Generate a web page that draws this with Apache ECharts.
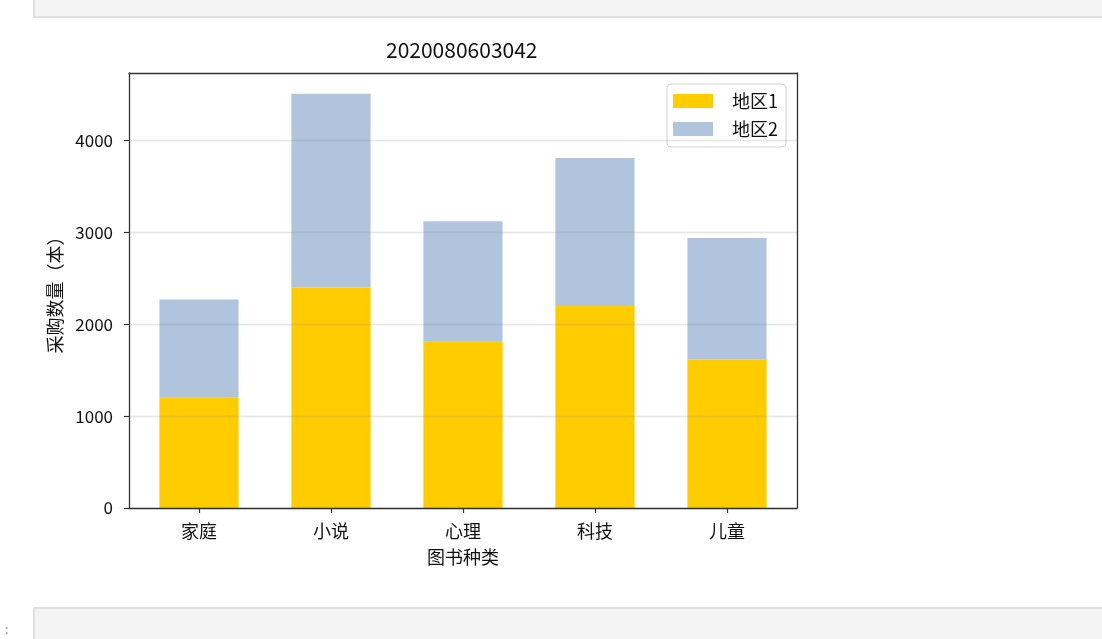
<!DOCTYPE html>
<html>
<head>
<meta charset="utf-8">
<script src="https://cdn.jsdelivr.net/npm/echarts@6/dist/echarts.min.js"></script>
<style>
  html, body { margin: 0; padding: 0; background: #fff; }
  #chart { position: absolute; left: 0; top: 0; width: 1102px; height: 639px; }
  .cell { position: absolute; background: #f4f4f4; border: 2px solid #e0e0e0; box-sizing: border-box; }
  .prompt { position: absolute; font-family: "DejaVu Sans Mono", monospace; font-size: 13px; color: #999; }
</style>
</head>
<body>
<div id="chart"></div>
<div class="cell" style="left:33px; top:-3px; width:1080px; height:21px;"></div>
<div class="cell" style="left:33px; top:607px; width:1080px; height:40px;"></div>
<div class="prompt" style="left:-5px; top:622px;">]:</div>
<script>
const titleText = '2020080603042';
const categories = ['家庭', '小说', '心理', '科技', '儿童'];
const seriesNames = ['地区1', '地区2'];
const region1 = [1200, 2400, 1810, 2200, 1620];
const region2 = [1070, 2110, 1310, 1610, 1320];
const yTicks = [0, 1000, 2000, 3000, 4000];
const xLabel = '图书种类';
const yLabel = '采购数量（本）';

const FONT = '"Noto Sans CJK SC", "Noto Sans", sans-serif';
const Y_MIN = 0, Y_MAX = 4735;
const FRAME = { color: '#333', width: 1.3 };

const chart = echarts.init(document.getElementById('chart'), null, { renderer: 'canvas' });

const option = {
  backgroundColor: '#ffffff',
  animation: false,
  title: {
    text: titleText,
    left: 386,
    top: 40,
    padding: 0,
    textStyle: { fontFamily: FONT, fontSize: 21, fontWeight: 'normal', color: '#111' }
  },
  legend: {
    orient: 'vertical',
    left: 667,
    top: 84,
    padding: [8, 8, 9, 6],
    itemGap: 10,
    itemWidth: 40,
    itemHeight: 14,
    icon: 'rect',
    backgroundColor: 'rgba(255,255,255,0.85)',
    borderColor: '#d0d0d0',
    borderWidth: 1,
    borderRadius: 4,
    data: seriesNames,
    textStyle: { fontFamily: FONT, fontSize: 18, color: '#111', padding: [0, 0, 0, 14] }
  },
  grid: [
    { left: 133, right: 309, top: 73, bottom: 131, containLabel: false },
    { left: 129, right: 305, top: 73, bottom: 131, containLabel: false }
  ],
  xAxis: [
    {
      type: 'category',
      gridIndex: 0,
      data: categories,
      boundaryGap: true,
      axisLine: { show: false },
      axisTick: { show: true, alignWithLabel: true, length: 5, lineStyle: { color: '#333', width: 1.2 } },
      axisLabel: { margin: 14, fontFamily: FONT, fontSize: 18, color: '#111' },
      splitLine: { show: false },
      name: xLabel,
      nameLocation: 'middle',
      nameGap: 40,
      nameTextStyle: { fontFamily: FONT, fontSize: 18, color: '#111' }
    },
    {
      type: 'value', gridIndex: 1, position: 'bottom', min: 0, max: 1, z: 6,
      axisLine: { show: true, onZero: false, lineStyle: FRAME },
      axisTick: { show: false }, axisLabel: { show: false }, splitLine: { show: false }
    },
    {
      type: 'value', gridIndex: 1, position: 'top', min: 0, max: 1, z: 6,
      axisLine: { show: true, onZero: false, lineStyle: FRAME },
      axisTick: { show: false }, axisLabel: { show: false }, splitLine: { show: false }
    }
  ],
  yAxis: [
    {
      type: 'value', gridIndex: 0, min: Y_MIN, max: Y_MAX, show: false
    },
    {
      type: 'value',
      gridIndex: 1,
      position: 'left',
      min: Y_MIN,
      max: Y_MAX,
      interval: 1000,
      z: 5,
      axisLine: { show: true, onZero: false, lineStyle: FRAME },
      axisTick: { show: true, length: 5, customValues: yTicks, lineStyle: { color: '#333', width: 1.2 } },
      axisLabel: {
        customValues: yTicks,
        margin: 16,
        fontFamily: FONT,
        fontSize: 17,
        color: '#111',
        formatter: v => String(v)
      },
      splitLine: { show: true, lineStyle: { color: 'rgba(140,140,140,0.22)', width: 1.3 } },
      name: yLabel,
      nameLocation: 'middle',
      nameGap: 64,
      nameRotate: 90,
      nameTextStyle: { fontFamily: FONT, fontSize: 18, color: '#111' }
    },
    {
      type: 'value', gridIndex: 1, position: 'right', min: Y_MIN, max: Y_MAX, z: 6,
      axisLine: { show: true, onZero: false, lineStyle: FRAME },
      axisTick: { show: false }, axisLabel: { show: false }, splitLine: { show: false }
    }
  ],
  series: [
    {
      name: seriesNames[0],
      type: 'bar',
      stack: 'total',
      xAxisIndex: 0,
      yAxisIndex: 0,
      barWidth: '60%',
      itemStyle: { color: '#ffcc00' },
      data: region1
    },
    {
      name: seriesNames[1],
      type: 'bar',
      stack: 'total',
      xAxisIndex: 0,
      yAxisIndex: 0,
      barWidth: '60%',
      itemStyle: { color: '#b0c4de' },
      data: region2
    }
  ]
};

chart.setOption(option);
</script>
</body>
</html>
